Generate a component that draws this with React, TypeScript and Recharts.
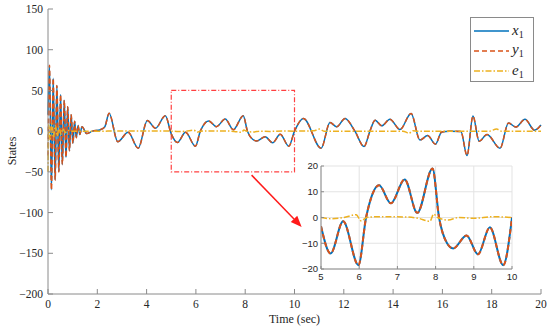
import React from 'react';
import {
  ComposedChart,
  Line,
  XAxis,
  YAxis,
  CartesianGrid,
  ReferenceArea,
  ReferenceLine,
  Label,
} from 'recharts';

// sample times (sec) for x1 / y1
const timeX1 = [
  0, 0.06, 0.14, 0.21, 0.29, 0.36, 0.44, 0.51, 0.58, 0.66, 0.73, 0.8, 0.87, 0.94, 1.01, 1.08,
  1.15, 1.22, 1.29, 1.38, 1.57, 1.8, 2.1, 2.3, 2.48, 2.83, 3.25, 3.66, 4.03, 4.36, 4.76, 5,
  5.25, 5.58, 5.98, 6.18, 6.26, 6.52, 6.83, 7.19, 7.52, 7.92, 8.09, 8.3, 8.46, 8.81, 9.11, 9.42,
  9.77, 10, 10.36, 11.08, 11.44, 11.71, 12.05, 12.45, 12.82, 13.06, 13.27, 13.54, 13.87, 14.28,
  14.73, 15.09, 15.4, 15.72, 15.97, 16.3, 16.75, 17.0, 17.24, 17.49, 17.81, 18.34, 18.68, 18.98,
  19.35, 19.74, 20,
];
const valX1 = [
  20, 81, -72, 65, -60, 56, -50, 45, -41, 38, -32, 30, -24, 20, -15, 12,
  -8, 7, -4, 5.5, -3, 0, 1.5, 5, 22, -13, -1.5, -21, 13, 3.5, 19, -3.4,
  -14, -1.5, -18.5, 0, 5, 12.5, 5.5, 14.8, 1.8, 19, 0, -10, -12, -7, -14.3, -3.8,
  -18.5, 0, 15.6, -21, 10.7, 5.3, 15.6, 0, -19, 0, 13.5, 6.5, 14.7, 2,
  21.7, -11, -5.5, -16, -1, 0, -0.5, -30, 18.5, -12.5, -4, -21, 10, 5,
  14.5, 1.2, 7.5,
];
// y1 sits on top of x1 except for its initial condition
const valY1 = [
  -30, 81, -72, 65, -60, 56, -50, 45, -41, 38, -32, 30, -24, 20, -15, 12,
  -8, 7, -4, 5.5, -3, 0, 1.5, 5, 22, -13, -1.5, -21, 13, 3.5, 19, -3.4,
  -14, -1.5, -18.5, 0, 5, 12.5, 5.5, 14.8, 1.8, 19, 0, -10, -12, -7, -14.3, -3.8,
  -18.5, 0, 15.6, -21, 10.7, 5.3, 15.6, 0, -19, 0, 13.5, 6.5, 14.7, 2,
  21.7, -11, -5.5, -16, -1, 0, -0.5, -30, 18.5, -12.5, -4, -21, 10, 5,
  14.5, 1.2, 7.5,
];
const timeE1 = [
  0, 0.03, 0.08, 0.15, 0.22, 0.3, 0.37, 0.45, 0.52, 0.6, 0.7, 0.8, 0.95, 2, 4.5, 5,
  5.3, 5.6, 5.92, 6.05, 6.2, 6.5, 7.2, 7.55, 7.85, 7.95, 8.05, 8.33, 8.6, 9.0, 9.5, 10,
  10.8, 11.0, 11.2, 14.4, 14.65, 14.8, 15, 17.9, 18.2, 18.4, 20,
];
const valE1 = [
  -50, 8, -10, 9, -8, 7, -6, 5, -4, 3, -2, 1, 0, 0, 0.3, 0,
  -0.5, 0, 1.1, -1.3, 0, 0.3, 0.2, -0.3, -1.5, 1.3, 0, -1, 0, -0.3, 0.3, 0,
  0.5, 2.5, 0, 0, -2.5, 0.5, 0, 0, 2.5, 0, 0,
];

const mainXTicks = [0, 2, 4, 6, 8, 10, 12, 14, 16, 18, 20];
const mainYTicks = [-200, -150, -100, -50, 0, 50, 100, 150];
const zoomXTicks = [5, 6, 7, 8, 9, 10];
const zoomYTicks = [-20, -10, 0, 10, 20];

const BLUE = '#0072BD';
const ORANGE = '#D95319';
const YELLOW = '#EDB120';
const AXIS = '#8a8a8a';
const TEXT = '#262626';
const SERIF = '"Liberation Serif", "Times New Roman", serif';
const SANS = '"Liberation Sans", Arial, sans-serif';

const x1Data = timeX1.map((t, i) => ({ t, v: valX1[i] }));
const y1Data = timeX1.map((t, i) => ({ t, v: valY1[i] }));
const e1Data = timeE1.map((t, i) => ({ t, v: valE1[i] }));

const inZoom = (d: { t: number }) => d.t >= 5 && d.t <= 10;
// MATLAB prints a real minus sign
const minus = (v: number) => String(v).replace('-', '\u2212');

const StatesLabel = () => (
  <text
    x={12}
    y={151}
    transform="rotate(-90 12 151)"
    textAnchor="middle"
    dominantBaseline="central"
    fontFamily={SERIF}
    fontSize={12}
    fill={TEXT}
  >
    States
  </text>
);

const Arrow = (props: any) => {
  const { x1, y1, x2, y2 } = props;
  const ang = Math.atan2(y2 - y1, x2 - x1);
  const len = 11;
  const w = 4.5;
  const bx = x2 - len * Math.cos(ang);
  const by = y2 - len * Math.sin(ang);
  const p1 = `${bx + w * Math.sin(ang)},${by - w * Math.cos(ang)}`;
  const p2 = `${bx - w * Math.sin(ang)},${by + w * Math.cos(ang)}`;
  return (
    <g>
      <line x1={x1} y1={y1} x2={bx} y2={by} stroke="#ff1a1a" strokeWidth={1.5} />
      <polygon points={`${x2},${y2} ${p1} ${p2}`} fill="#ff1a1a" />
    </g>
  );
};

const Legend = () => (
  <svg
    width={64}
    height={65}
    style={{ position: 'absolute', left: 470, top: 17, background: '#fff' }}
  >
    <rect x={0.5} y={0.5} width={63} height={64} fill="#fff" stroke={AXIS} />
    <line x1={4} y1={14} x2={39} y2={14} stroke={BLUE} strokeWidth={1.5} />
    <line x1={4} y1={34} x2={39} y2={34} stroke={ORANGE} strokeWidth={1.5} strokeDasharray="5 3" />
    <line x1={4} y1={54} x2={39} y2={54} stroke={YELLOW} strokeWidth={1.5} strokeDasharray="6 2 1.5 2" />
    {[
      ['x', 18],
      ['y', 37],
      ['e', 58],
    ].map(([s, y]) => (
      <text key={s as string} x={42} y={y as number} fontFamily={SERIF} fill={TEXT} fontSize={15}>
        <tspan fontStyle="italic">{s}</tspan>
        <tspan fontSize={10} dy={3}>1</tspan>
      </text>
    ))}
  </svg>
);

const ZoomChart = () => (
  <div style={{ position: 'absolute', left: 290, top: 158 }}>
    <ComposedChart width={230} height={130} margin={{ top: 8, right: 8, bottom: 0, left: 0 }}>
      <CartesianGrid stroke="#e3e3e3" fill="#fff" fillOpacity={1} />
      <XAxis
        type="number"
        dataKey="t"
        domain={[5, 10]}
        ticks={zoomXTicks}
        allowDataOverflow
        height={19}
        tickSize={-3}
        tickMargin={7}
        stroke={AXIS}
        tick={{ fontFamily: SANS, fontSize: 9.5, fill: TEXT }}
      />
      <XAxis
        xAxisId="top"
        orientation="top"
        type="number"
        domain={[5, 10]}
        ticks={zoomXTicks}
        height={0}
        tick={false}
        tickSize={-3}
        stroke={AXIS}
      />
      <YAxis
        type="number"
        domain={[-20, 20]}
        ticks={zoomYTicks}
        allowDataOverflow
        width={31}
        tickSize={-3}
        tickMargin={6}
        stroke={AXIS}
        tickFormatter={minus}
        tick={{ fontFamily: SANS, fontSize: 9.5, fill: TEXT }}
      />
      <YAxis
        yAxisId="right"
        orientation="right"
        type="number"
        domain={[-20, 20]}
        ticks={zoomYTicks}
        width={0}
        tick={false}
        tickSize={-3}
        stroke={AXIS}
      />
      <Line data={x1Data.filter(inZoom)} dataKey="v" type="monotone" stroke={BLUE} strokeWidth={2} dot={false} activeDot={false} isAnimationActive={false} />
      <Line data={y1Data.filter(inZoom)} dataKey="v" type="monotone" stroke={ORANGE} strokeWidth={2} strokeDasharray="5 3" dot={false} activeDot={false} isAnimationActive={false} />
      <Line data={e1Data.filter(inZoom)} dataKey="v" type="monotone" stroke={YELLOW} strokeWidth={1.5} strokeDasharray="6 2 1.5 2" dot={false} activeDot={false} isAnimationActive={false} />
    </ComposedChart>
  </div>
);

export default function App() {
  return (
    <div style={{ position: 'relative', width: 550, height: 333, background: '#fff' }}>
      <style>{'body{margin:0}'}</style>
      <ComposedChart width={550} height={333} margin={{ top: 9, right: 9, bottom: 0, left: 0 }}>
        <XAxis
          type="number"
          dataKey="t"
          domain={[0, 20]}
          ticks={mainXTicks}
          height={39}
          tickSize={-5}
          tickMargin={11}
          stroke={AXIS}
          tick={{ fontFamily: SERIF, fontSize: 11.5, fill: TEXT }}
        >
          <Label value="Time (sec)" position="insideBottom" offset={10} fontFamily={SERIF} fontSize={12} fill={TEXT} />
        </XAxis>
        <XAxis
          xAxisId="top"
          orientation="top"
          type="number"
          domain={[0, 20]}
          ticks={mainXTicks}
          height={0}
          tick={false}
          tickSize={-5}
          stroke={AXIS}
        />
        <YAxis
          type="number"
          domain={[-200, 150]}
          ticks={mainYTicks}
          width={48}
          tickSize={-5}
          tickMargin={10}
          stroke={AXIS}
          tickFormatter={minus}
          tick={{ fontFamily: SERIF, fontSize: 11.5, fill: TEXT }}
          label={<Label content={StatesLabel} />}
        />
        <YAxis
          yAxisId="right"
          orientation="right"
          type="number"
          domain={[-200, 150]}
          ticks={mainYTicks}
          width={0}
          tick={false}
          tickSize={-5}
          stroke={AXIS}
        />
        <ReferenceArea
          x1={5}
          x2={10}
          y1={-50}
          y2={50}
          fill="none"
          fillOpacity={0}
          stroke="#ff4040"
          strokeWidth={1.2}
          strokeDasharray="5 2 1 2"
        />
        <Line data={x1Data} dataKey="v" type="monotone" stroke={BLUE} strokeWidth={1.5} dot={false} activeDot={false} isAnimationActive={false} />
        <Line data={y1Data} dataKey="v" type="monotone" stroke={ORANGE} strokeWidth={1.5} strokeDasharray="5 3" dot={false} activeDot={false} isAnimationActive={false} />
        <Line data={e1Data} dataKey="v" type="monotone" stroke={YELLOW} strokeWidth={1.5} strokeDasharray="6 2 1.5 2" dot={false} activeDot={false} isAnimationActive={false} />
        <ReferenceLine
          segment={[
            { x: 8.26, y: -54 },
            { x: 10.29, y: -117.6 },
          ]}
          shape={Arrow}
        />
      </ComposedChart>
      <ZoomChart />
      <Legend />
    </div>
  );
}
